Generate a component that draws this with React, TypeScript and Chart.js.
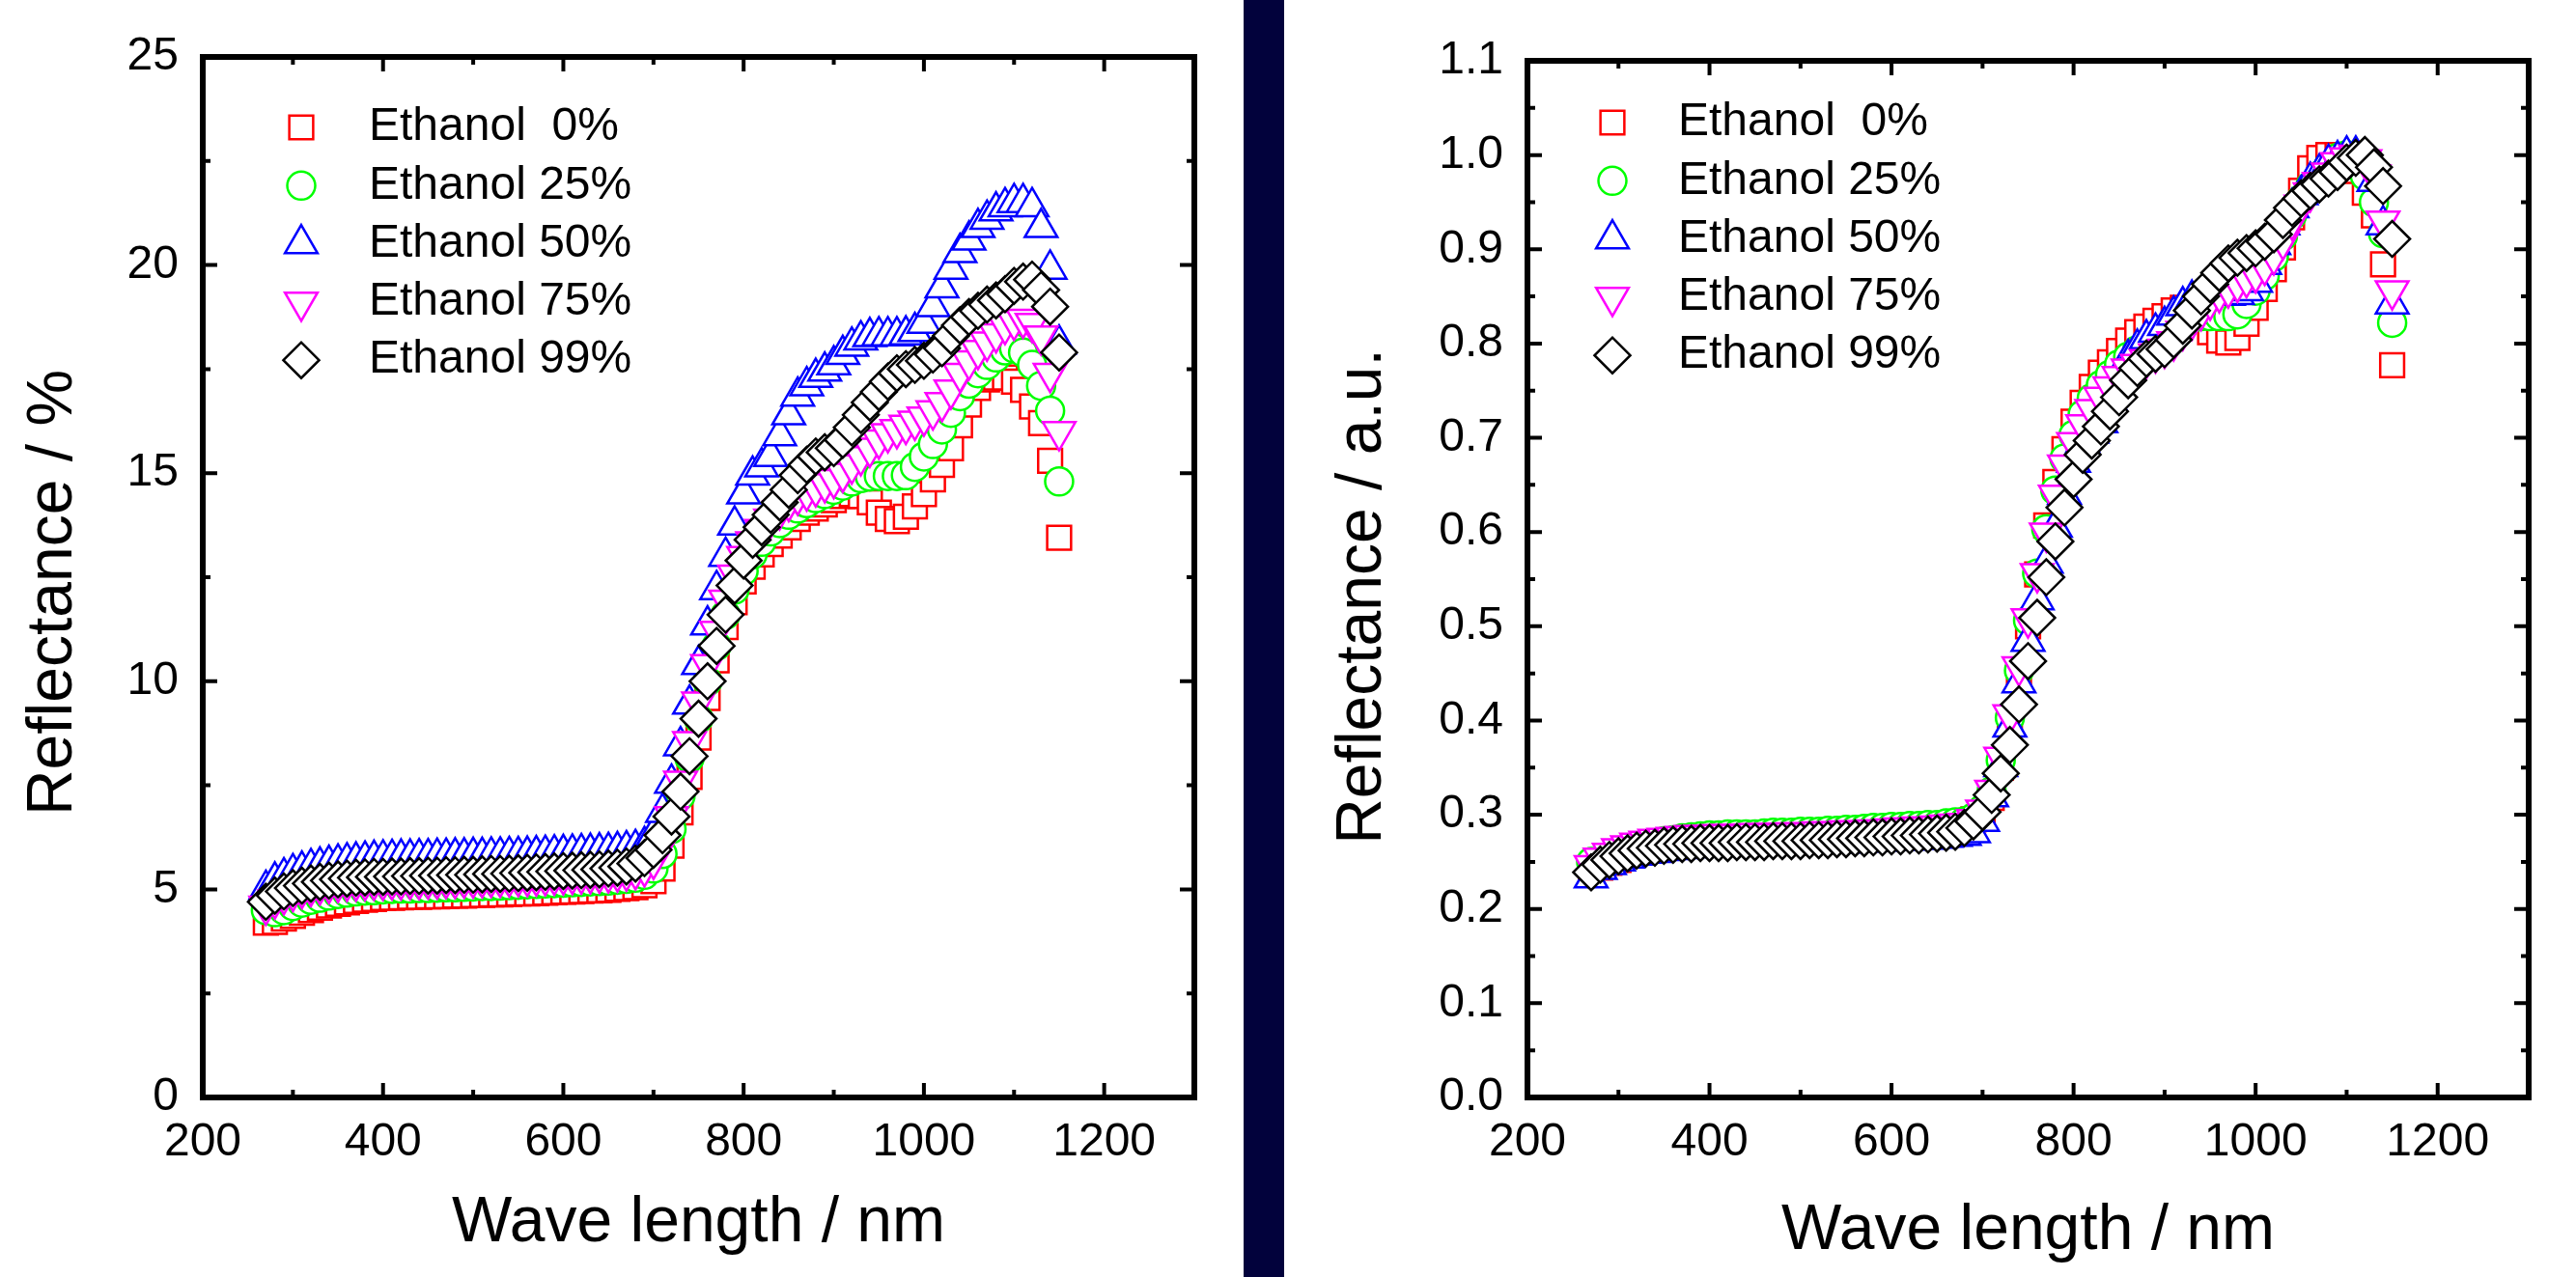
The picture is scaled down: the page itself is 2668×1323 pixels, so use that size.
import React, { useEffect, useRef } from 'react';
import { Chart, registerables } from 'chart.js';

Chart.register(...registerables);

// ---------------- data ----------------
const X_NM: number[] = [
  270, 280, 290, 300, 310, 320, 330, 340, 350, 360,
  370, 380, 390, 400, 410, 420, 430, 440, 450, 460,
  470, 480, 490, 500, 510, 520, 530, 540, 550, 560,
  570, 580, 590, 600, 610, 620, 630, 640, 650, 660,
  670, 680, 690, 700, 710, 720, 730, 740, 750, 760,
  770, 780, 790, 800, 810, 820, 830, 840, 850, 860,
  870, 880, 890, 900, 910, 920, 930, 940, 950, 960,
  970, 980, 990, 1000, 1010, 1020, 1030, 1040, 1050, 1060,
  1070, 1080, 1090, 1100, 1110, 1120, 1130, 1140, 1150,
];

const SERIES_LABELS: string[] = ['Ethanol  0%', 'Ethanol 25%', 'Ethanol 50%', 'Ethanol 75%', 'Ethanol 99%'];

// Left panel: Reflectance / %
const E0_PCT: number[] = [
  4.20, 4.22, 4.30, 4.36, 4.44, 4.50, 4.56, 4.61, 4.65, 4.69,
  4.72, 4.75, 4.77, 4.79, 4.80, 4.81, 4.82, 4.82, 4.83, 4.83,
  4.84, 4.85, 4.85, 4.86, 4.87, 4.88, 4.88, 4.89, 4.90, 4.90,
  4.91, 4.92, 4.93, 4.94, 4.95, 4.96, 4.97, 4.98, 4.99, 5.01,
  5.03, 5.05, 5.10, 5.20, 5.50, 6.05, 6.85, 7.70, 8.65, 9.60,
  10.50, 11.30, 11.90, 12.40, 12.75, 13.05, 13.30, 13.50, 13.70, 13.90,
  14.05, 14.15, 14.25, 14.35, 14.45, 14.50, 14.45, 14.30, 14.05, 13.90,
  13.85, 13.95, 14.20, 14.50, 14.85, 15.20, 15.60, 16.15, 16.65, 17.05,
  17.25, 17.30, 17.30, 17.20, 17.00, 16.60, 16.20, 15.30, 13.45,
];
const E25_PCT: number[] = [
  4.50, 4.45, 4.50, 4.60, 4.68, 4.75, 4.80, 4.85, 4.89, 4.92,
  4.95, 4.97, 4.98, 5.00, 5.01, 5.02, 5.02, 5.03, 5.03, 5.04,
  5.05, 5.05, 5.06, 5.07, 5.08, 5.08, 5.09, 5.10, 5.11, 5.12,
  5.13, 5.14, 5.15, 5.16, 5.17, 5.18, 5.19, 5.20, 5.21, 5.23,
  5.25, 5.28, 5.35, 5.50, 5.85, 6.45, 7.25, 8.15, 9.10, 10.00,
  10.85, 11.60, 12.20, 12.65, 13.05, 13.35, 13.60, 13.80, 14.00, 14.15,
  14.28, 14.40, 14.50, 14.60, 14.70, 14.80, 14.88, 14.92, 14.93, 14.93,
  14.93, 14.95, 15.15, 15.40, 15.70, 16.05, 16.45, 16.85, 17.15, 17.40,
  17.60, 17.78, 17.95, 18.00, 17.90, 17.60, 17.10, 16.50, 14.80,
];
const E50_PCT: number[] = [
  5.00, 5.20, 5.30, 5.40, 5.46, 5.52, 5.56, 5.60, 5.63, 5.66,
  5.68, 5.70, 5.72, 5.73, 5.74, 5.75, 5.75, 5.76, 5.76, 5.77,
  5.77, 5.78, 5.78, 5.79, 5.79, 5.80, 5.80, 5.81, 5.81, 5.82,
  5.83, 5.84, 5.85, 5.86, 5.87, 5.88, 5.89, 5.90, 5.91, 5.93,
  5.95, 5.98, 6.05, 6.30, 6.85, 7.55, 8.45, 9.45, 10.40, 11.35,
  12.20, 13.00, 13.75, 14.50, 14.95, 15.15, 15.40, 15.90, 16.40, 16.85,
  17.10, 17.30, 17.45, 17.60, 17.85, 18.05, 18.20, 18.28, 18.30, 18.30,
  18.30, 18.32, 18.40, 18.60, 19.00, 19.45, 19.90, 20.30, 20.60, 20.90,
  21.10, 21.30, 21.40, 21.50, 21.50, 21.40, 20.90, 19.90, 18.10,
];
const E75_PCT: number[] = [
  4.60, 4.75, 4.85, 4.93, 5.00, 5.05, 5.09, 5.12, 5.15, 5.17,
  5.18, 5.19, 5.20, 5.20, 5.21, 5.21, 5.22, 5.22, 5.23, 5.23,
  5.24, 5.24, 5.25, 5.25, 5.26, 5.27, 5.27, 5.28, 5.29, 5.29,
  5.30, 5.31, 5.32, 5.33, 5.34, 5.35, 5.36, 5.37, 5.38, 5.40,
  5.42, 5.45, 5.52, 5.70, 6.10, 6.75, 7.60, 8.55, 9.50, 10.40,
  11.20, 11.95, 12.55, 13.00, 13.35, 13.65, 13.90, 14.10, 14.30, 14.45,
  14.55, 14.65, 14.75, 14.85, 15.00, 15.20, 15.40, 15.60, 15.80, 15.95,
  16.05, 16.15, 16.25, 16.35, 16.50, 16.70, 17.00, 17.40, 17.70, 17.95,
  18.15, 18.35, 18.55, 18.65, 18.70, 18.60, 18.30, 17.40, 16.00,
];
const E99_PCT: number[] = [
  4.70, 4.85, 4.95, 5.03, 5.09, 5.14, 5.18, 5.21, 5.24, 5.26,
  5.28, 5.29, 5.30, 5.30, 5.31, 5.31, 5.32, 5.32, 5.33, 5.33,
  5.34, 5.34, 5.35, 5.35, 5.36, 5.37, 5.37, 5.38, 5.39, 5.40,
  5.41, 5.42, 5.43, 5.44, 5.45, 5.46, 5.47, 5.48, 5.50, 5.52,
  5.55, 5.62, 5.75, 5.95, 6.30, 6.75, 7.35, 8.20, 9.10, 10.00,
  10.85, 11.60, 12.30, 12.90, 13.40, 13.70, 14.00, 14.30, 14.60, 14.95,
  15.20, 15.40, 15.50, 15.60, 15.80, 16.10, 16.40, 16.70, 16.95, 17.20,
  17.40, 17.50, 17.60, 17.70, 17.85, 18.00, 18.30, 18.55, 18.75, 18.90,
  19.05, 19.15, 19.30, 19.50, 19.60, 19.65, 19.40, 19.00, 17.90,
];

// Right panel: Reflectance / a.u.
const E0_AU: number[] = [
  0.243, 0.244, 0.249, 0.252, 0.257, 0.260, 0.264, 0.266, 0.269, 0.271,
  0.273, 0.275, 0.276, 0.277, 0.277, 0.278, 0.279, 0.279, 0.279, 0.279,
  0.280, 0.280, 0.280, 0.281, 0.282, 0.282, 0.282, 0.283, 0.283, 0.283,
  0.284, 0.284, 0.285, 0.286, 0.286, 0.287, 0.287, 0.288, 0.288, 0.290,
  0.291, 0.292, 0.295, 0.301, 0.318, 0.350, 0.396, 0.445, 0.500, 0.555,
  0.607, 0.653, 0.688, 0.717, 0.737, 0.754, 0.769, 0.780, 0.792, 0.803,
  0.812, 0.818, 0.824, 0.829, 0.835, 0.838, 0.835, 0.827, 0.812, 0.803,
  0.801, 0.806, 0.821, 0.838, 0.858, 0.879, 0.902, 0.934, 0.962, 0.986,
  0.997, 1.000, 1.000, 0.994, 0.983, 0.960, 0.936, 0.884, 0.777,
];
const E25_AU: number[] = [
  0.250, 0.247, 0.250, 0.256, 0.260, 0.264, 0.267, 0.269, 0.272, 0.273,
  0.275, 0.276, 0.277, 0.278, 0.278, 0.279, 0.279, 0.279, 0.279, 0.280,
  0.281, 0.281, 0.281, 0.282, 0.282, 0.282, 0.283, 0.283, 0.284, 0.284,
  0.285, 0.286, 0.286, 0.287, 0.287, 0.288, 0.288, 0.289, 0.289, 0.291,
  0.292, 0.293, 0.297, 0.306, 0.325, 0.358, 0.403, 0.453, 0.506, 0.556,
  0.603, 0.644, 0.678, 0.703, 0.725, 0.742, 0.756, 0.767, 0.778, 0.786,
  0.793, 0.800, 0.806, 0.811, 0.817, 0.822, 0.827, 0.829, 0.829, 0.829,
  0.829, 0.831, 0.842, 0.856, 0.872, 0.892, 0.914, 0.936, 0.953, 0.967,
  0.978, 0.988, 0.997, 1.000, 0.994, 0.978, 0.950, 0.917, 0.822,
];
const E50_AU: number[] = [
  0.233, 0.242, 0.247, 0.251, 0.254, 0.257, 0.259, 0.260, 0.262, 0.263,
  0.264, 0.265, 0.266, 0.267, 0.267, 0.267, 0.267, 0.268, 0.268, 0.268,
  0.268, 0.269, 0.269, 0.269, 0.269, 0.270, 0.270, 0.270, 0.270, 0.271,
  0.271, 0.272, 0.272, 0.273, 0.273, 0.273, 0.274, 0.274, 0.275, 0.276,
  0.277, 0.278, 0.281, 0.293, 0.319, 0.351, 0.393, 0.440, 0.484, 0.528,
  0.567, 0.605, 0.640, 0.674, 0.695, 0.705, 0.716, 0.740, 0.763, 0.784,
  0.795, 0.805, 0.812, 0.819, 0.830, 0.840, 0.847, 0.850, 0.851, 0.851,
  0.851, 0.852, 0.856, 0.865, 0.884, 0.905, 0.926, 0.944, 0.958, 0.972,
  0.981, 0.991, 0.995, 1.000, 1.000, 0.995, 0.972, 0.926, 0.842,
];
const E75_AU: number[] = [
  0.246, 0.254, 0.259, 0.264, 0.267, 0.270, 0.272, 0.274, 0.275, 0.276,
  0.277, 0.278, 0.278, 0.278, 0.279, 0.279, 0.279, 0.279, 0.280, 0.280,
  0.280, 0.280, 0.281, 0.281, 0.281, 0.282, 0.282, 0.282, 0.283, 0.283,
  0.283, 0.284, 0.284, 0.285, 0.286, 0.286, 0.287, 0.287, 0.288, 0.289,
  0.290, 0.291, 0.295, 0.305, 0.326, 0.361, 0.406, 0.457, 0.508, 0.556,
  0.599, 0.639, 0.671, 0.695, 0.714, 0.730, 0.743, 0.754, 0.765, 0.773,
  0.778, 0.783, 0.789, 0.794, 0.802, 0.813, 0.824, 0.834, 0.845, 0.853,
  0.858, 0.864, 0.869, 0.874, 0.882, 0.893, 0.909, 0.930, 0.947, 0.960,
  0.971, 0.981, 0.992, 0.997, 1.000, 0.995, 0.979, 0.930, 0.856,
];
const E99_AU: number[] = [
  0.239, 0.247, 0.252, 0.256, 0.259, 0.262, 0.264, 0.265, 0.267, 0.268,
  0.269, 0.269, 0.270, 0.270, 0.270, 0.270, 0.271, 0.271, 0.271, 0.271,
  0.272, 0.272, 0.272, 0.272, 0.273, 0.273, 0.273, 0.274, 0.274, 0.275,
  0.275, 0.276, 0.276, 0.277, 0.277, 0.278, 0.278, 0.279, 0.280, 0.281,
  0.282, 0.286, 0.293, 0.303, 0.321, 0.344, 0.374, 0.417, 0.463, 0.509,
  0.552, 0.590, 0.626, 0.656, 0.682, 0.697, 0.712, 0.728, 0.743, 0.761,
  0.774, 0.784, 0.789, 0.794, 0.804, 0.819, 0.835, 0.850, 0.863, 0.875,
  0.885, 0.891, 0.896, 0.901, 0.908, 0.916, 0.931, 0.944, 0.954, 0.962,
  0.969, 0.975, 0.982, 0.992, 0.997, 1.000, 0.987, 0.967, 0.911,
];

const LEFT_SERIES: number[][] = [E0_PCT, E25_PCT, E50_PCT, E75_PCT, E99_PCT];
const RIGHT_SERIES: number[][] = [E0_AU, E25_AU, E50_AU, E75_AU, E99_AU];

// ---------------- styles ----------------
const COLORS = ['#ff0000', '#00ff00', '#0000ff', '#ff00ff', '#000000'];
const POINT_STYLES = ['rect', 'circle', 'triangle', 'triangle', 'rectRot'];
const POINT_ROT = [0, 0, 0, 180, 0];
const POINT_R = [17.5, 14.5, 19.5, 19.5, 18.5];
const FONT = '"Liberation Sans", Arial, Helvetica, sans-serif';
const H = 1323;

function drawMarker(ctx: CanvasRenderingContext2D, style: string, x: number, y: number, r: number, rot: number) {
  ctx.beginPath();
  if (style === 'circle') {
    ctx.arc(x, y, r, 0, Math.PI * 2);
  } else if (style === 'rect') {
    const s = r * Math.SQRT1_2;
    ctx.rect(x - s, y - s, 2 * s, 2 * s);
  } else if (style === 'rectRot') {
    ctx.moveTo(x - r, y);
    ctx.lineTo(x, y - r);
    ctx.lineTo(x + r, y);
    ctx.lineTo(x, y + r);
    ctx.closePath();
  } else {
    let rad = (rot * Math.PI) / 180;
    ctx.moveTo(x + Math.sin(rad) * r, y - Math.cos(rad) * r);
    rad += (2 * Math.PI) / 3;
    ctx.lineTo(x + Math.sin(rad) * r, y - Math.cos(rad) * r);
    rad += (2 * Math.PI) / 3;
    ctx.lineTo(x + Math.sin(rad) * r, y - Math.cos(rad) * r);
    ctx.closePath();
  }
  ctx.fillStyle = '#ffffff';
  ctx.fill();
  ctx.stroke();
}

type PanelCfg = {
  id: string;
  left: number;
  width: number;
  areaLeft: number;
  padRight: number;
  padTop: number;
  areaBottom: number;
  yMax: number;
  yStep: number;
  yDecimals: number;
  yTitle: string;
  series: number[][];
  legendMarkerDx: number;
  legendTextDx: number;
  legendTopDy: number;
  yTitleX: number;
  yTitleY: number;
  xTitleY: number;
};

const PANELS: PanelCfg[] = [
  {
    id: 'pct', left: 0, width: 1288, areaLeft: 210, padRight: 51, padTop: 59, areaBottom: 1137,
    yMax: 25, yStep: 5, yDecimals: 0, yTitle: 'Reflectance / %', series: LEFT_SERIES,
    legendMarkerDx: 102, legendTextDx: 172, legendTopDy: 73,
    yTitleX: 56, yTitleY: 614, xTitleY: 1268,
  },
  {
    id: 'au', left: 1330, width: 1338, areaLeft: 252, padRight: 49, padTop: 63, areaBottom: 1137,
    yMax: 1.1, yStep: 0.1, yDecimals: 1, yTitle: 'Reflectance / a.u.', series: RIGHT_SERIES,
    legendMarkerDx: 88, legendTextDx: 156, legendTopDy: 64,
    yTitleX: 82, yTitleY: 618, xTitleY: 1276,
  },
];

function Panel({ cfg }: { cfg: PanelCfg }) {
  const ref = useRef<HTMLCanvasElement | null>(null);

  useEffect(() => {
    if (!ref.current) return;

    const framePlugin = {
      id: 'frame-' + cfg.id,
      afterDraw(chart: any) {
        const { ctx, chartArea: a, scales } = chart;
        const xs = scales.x;
        const ys = scales.y;
        ctx.save();
        ctx.strokeStyle = '#000';
        ctx.fillStyle = '#000';
        // ticks (inward, mirrored on all sides)
        ctx.lineWidth = 4;
        ctx.lineCap = 'butt';
        const xMaj = xs.ticks.map((t: any) => t.value);
        const yMaj = ys.ticks.map((t: any) => t.value);
        const xMin: number[] = [];
        for (let i = 0; i < xMaj.length; i++) xMin.push(xMaj[i] + 100);
        const yMin: number[] = [];
        for (let i = 0; i < yMaj.length - 1; i++) yMin.push((yMaj[i] + yMaj[i + 1]) / 2);
        ctx.beginPath();
        xMaj.forEach((v: number) => {
          const p = xs.getPixelForValue(v);
          ctx.moveTo(p, a.bottom); ctx.lineTo(p, a.bottom - 15);
          ctx.moveTo(p, a.top); ctx.lineTo(p, a.top + 15);
        });
        xMin.forEach((v: number) => {
          const p = xs.getPixelForValue(v);
          if (p >= a.right - 1) return;
          ctx.moveTo(p, a.bottom); ctx.lineTo(p, a.bottom - 8);
          ctx.moveTo(p, a.top); ctx.lineTo(p, a.top + 8);
        });
        yMaj.forEach((v: number) => {
          const p = ys.getPixelForValue(v);
          ctx.moveTo(a.left, p); ctx.lineTo(a.left + 15, p);
          ctx.moveTo(a.right, p); ctx.lineTo(a.right - 15, p);
        });
        yMin.forEach((v: number) => {
          const p = ys.getPixelForValue(v);
          ctx.moveTo(a.left, p); ctx.lineTo(a.left + 8, p);
          ctx.moveTo(a.right, p); ctx.lineTo(a.right - 8, p);
        });
        ctx.stroke();
        // frame
        ctx.lineWidth = 6;
        ctx.strokeRect(a.left, a.top, a.right - a.left, a.bottom - a.top);

        // axis titles
        ctx.font = `66px ${FONT}`;
        ctx.textAlign = 'center';
        ctx.textBaseline = 'middle';
        ctx.fillText('Wave length / nm', (a.left + a.right) / 2, cfg.xTitleY);
        ctx.save();
        ctx.translate(cfg.yTitleX, cfg.yTitleY);
        ctx.rotate(-Math.PI / 2);
        ctx.fillText(cfg.yTitle, 0, 0);
        ctx.restore();

        // legend
        ctx.font = `48px ${FONT}`;
        ctx.textAlign = 'left';
        ctx.lineWidth = 2.5;
        SERIES_LABELS.forEach((lab, i) => {
          const y = a.top + cfg.legendTopDy + i * 60.3;
          ctx.strokeStyle = COLORS[i];
          drawMarker(ctx, POINT_STYLES[i], a.left + cfg.legendMarkerDx, y, POINT_R[i], POINT_ROT[i]);
          ctx.fillStyle = '#000';
          ctx.fillText(lab, a.left + cfg.legendTextDx, y);
        });
        ctx.restore();
      },
    };

    const datasets = cfg.series.map((vals, i) => ({
      label: SERIES_LABELS[i],
      data: X_NM.map((x, k) => ({ x, y: vals[k] })),
      showLine: false,
      pointStyle: POINT_STYLES[i],
      pointRotation: POINT_ROT[i],
      pointRadius: POINT_R[i],
      pointHoverRadius: POINT_R[i],
      borderColor: COLORS[i],
      pointBorderColor: COLORS[i],
      backgroundColor: '#ffffff',
      pointBackgroundColor: '#ffffff',
      borderWidth: 2.5,
      pointBorderWidth: 2.5,
      order: 4 - i,
    }));

    const chart = new Chart(ref.current, {
      type: 'scatter',
      data: { datasets },
      options: {
        responsive: false,
        animation: false,
        events: [],
        layout: { padding: { left: 0, right: cfg.padRight, top: cfg.padTop, bottom: 0 } },
        plugins: { legend: { display: false }, tooltip: { enabled: false }, title: { display: false } },
        scales: {
          x: {
            type: 'linear',
            min: 200,
            max: 1300,
            afterFit: (s: any) => { s.height = H - cfg.areaBottom; },
            grid: { display: false },
            border: { display: false },
            ticks: {
              stepSize: 200,
              includeBounds: false,
              autoSkip: false,
              maxRotation: 0,
              padding: 10,
              color: '#000',
              font: { family: FONT, size: 48 },
              callback: (v: any) => String(v),
            },
          },
          y: {
            type: 'linear',
            min: 0,
            max: cfg.yMax,
            afterFit: (s: any) => { s.width = cfg.areaLeft; },
            grid: { display: false },
            border: { display: false },
            ticks: {
              stepSize: cfg.yStep,
              autoSkip: false,
              padding: 17,
              color: '#000',
              font: { family: FONT, size: 48 },
              callback: (v: any) => Number(v).toFixed(cfg.yDecimals),
            },
          },
        },
      } as any,
      plugins: [framePlugin],
    });
    return () => chart.destroy();
  }, [cfg]);

  return (
    <canvas
      ref={ref}
      width={cfg.width}
      height={H}
      style={{ position: 'absolute', left: cfg.left, top: 0, display: 'block' }}
    />
  );
}

export default function App() {
  return (
    <div
      style={{
        position: 'absolute',
        left: 0,
        top: 0,
        width: 2668,
        height: H,
        background: '#ffffff',
        overflow: 'hidden',
      }}
    >
      <Panel cfg={PANELS[0]} />
      <div style={{ position: 'absolute', left: 1288, top: 0, width: 42, height: H, background: '#02023c' }} />
      <Panel cfg={PANELS[1]} />
    </div>
  );
}
